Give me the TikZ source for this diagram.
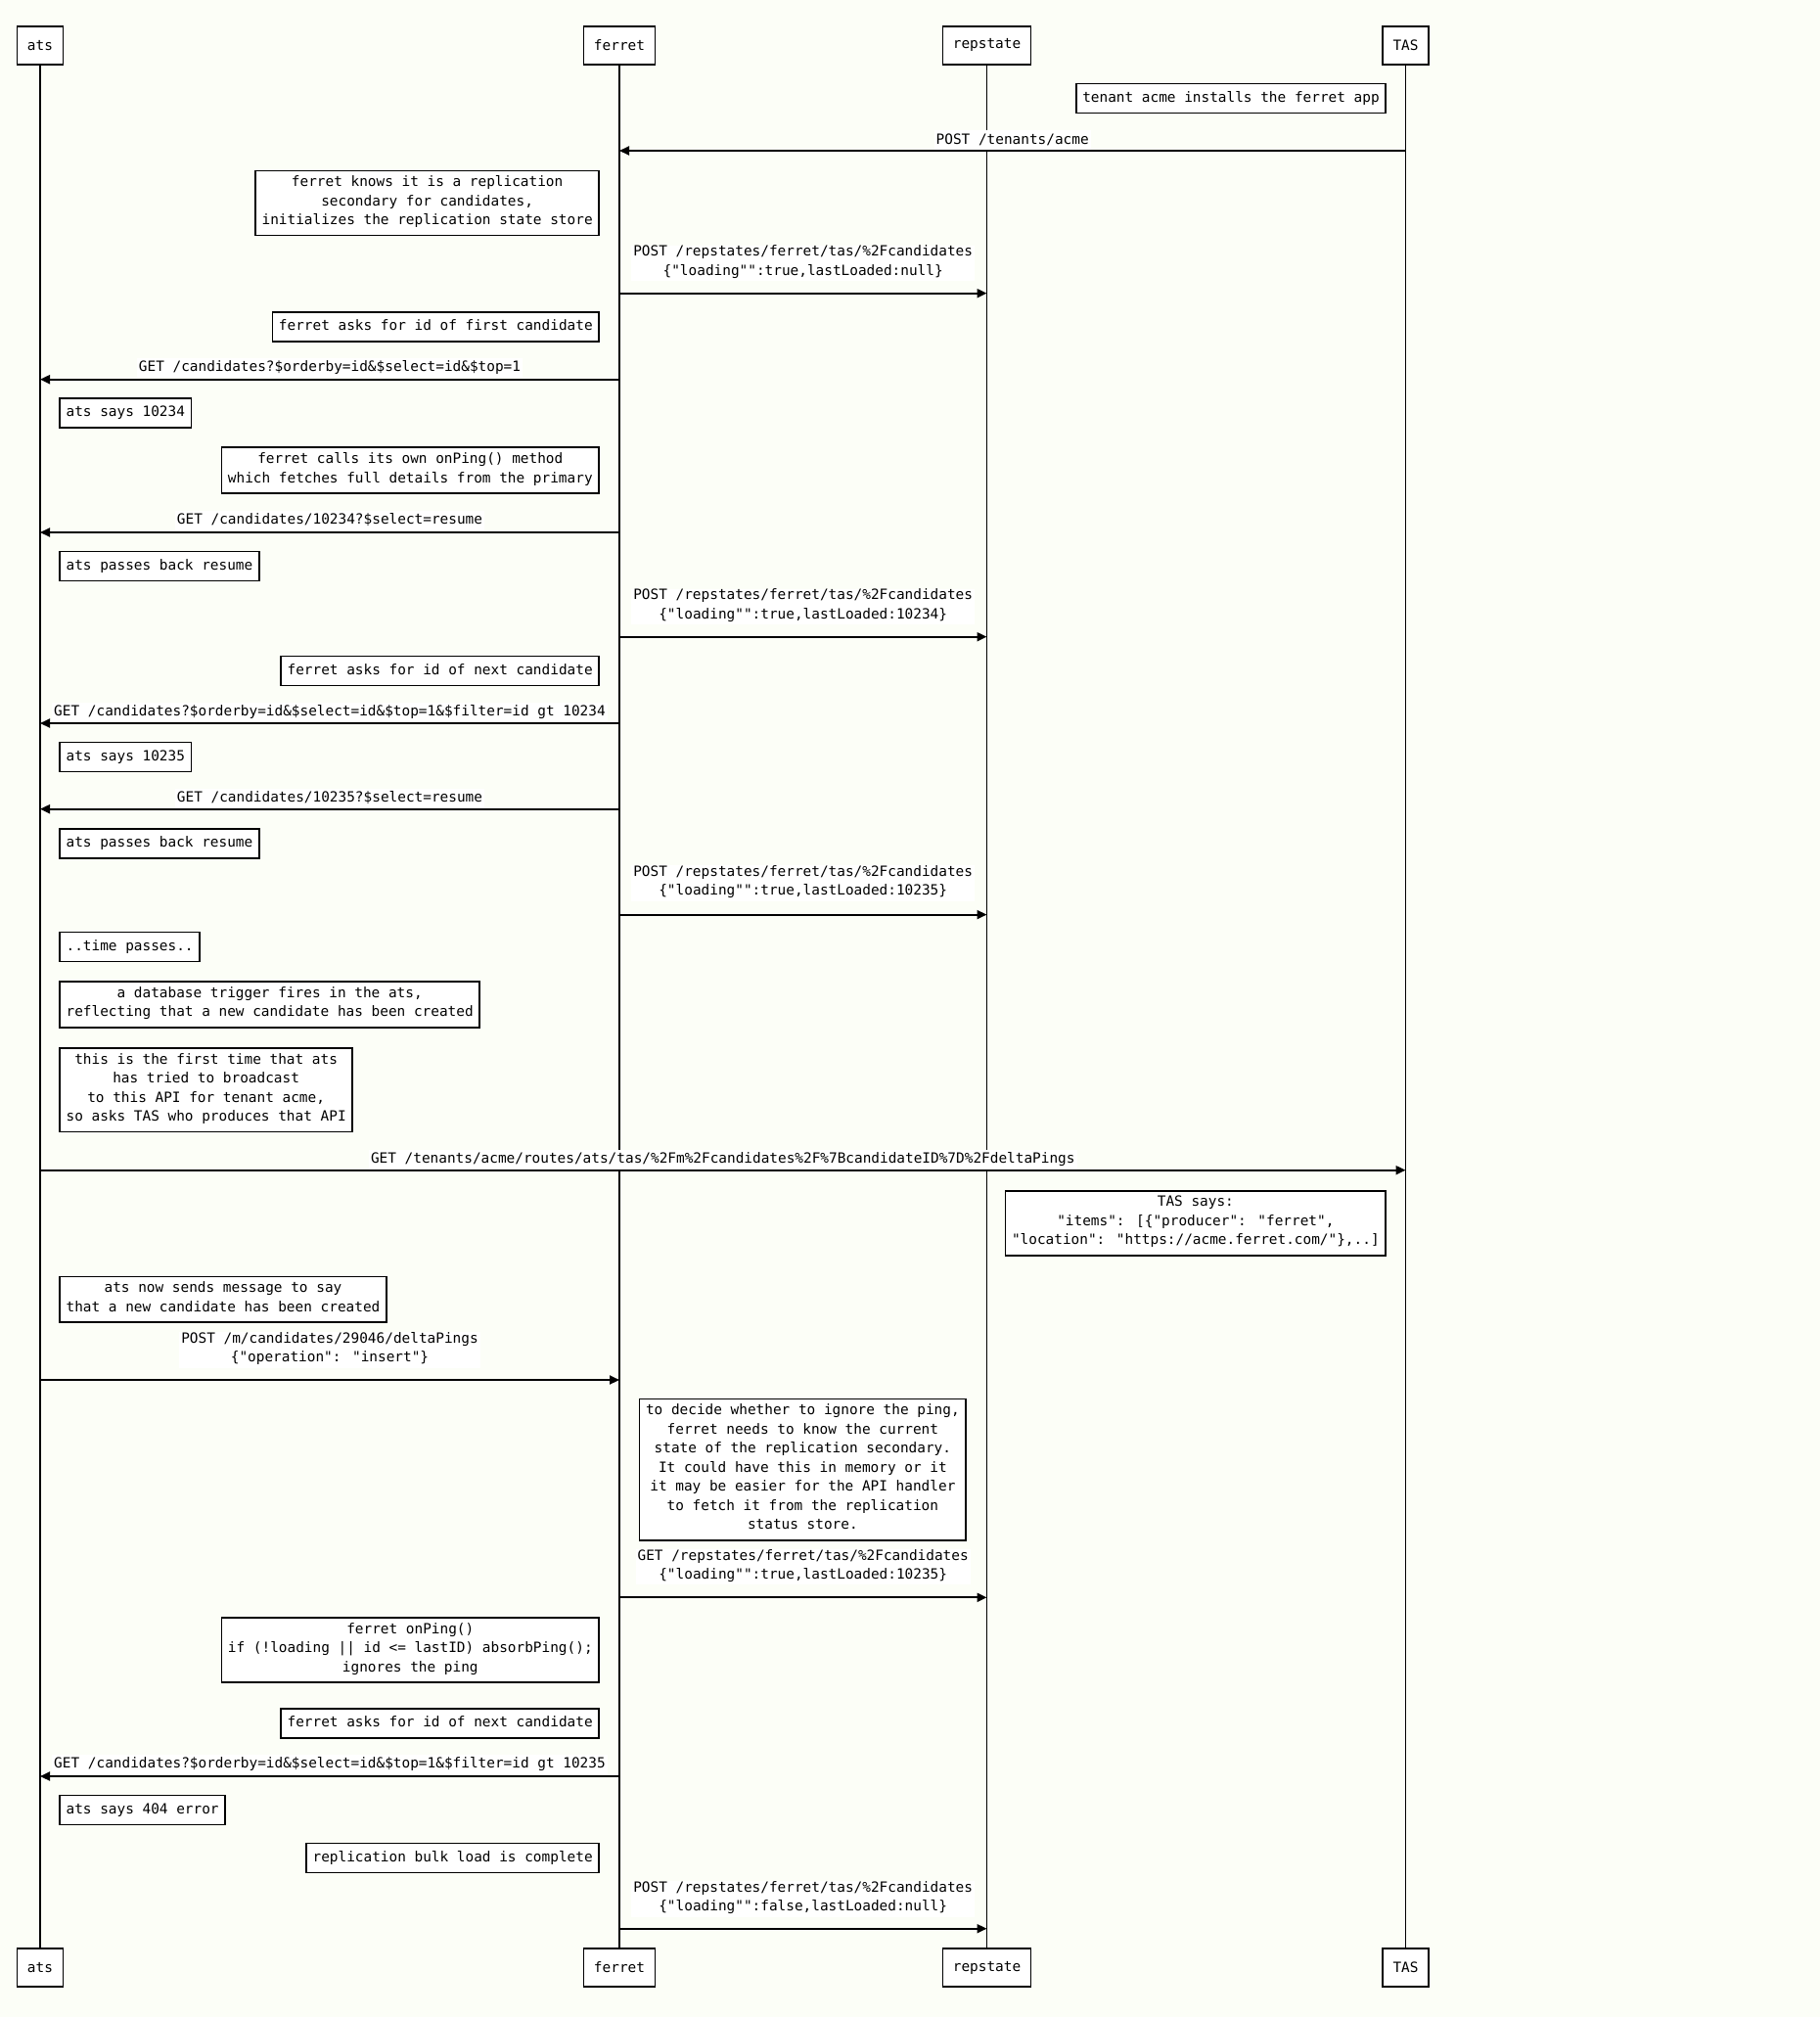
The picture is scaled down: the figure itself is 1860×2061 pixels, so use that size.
\documentclass[tikz,border=0pt]{standalone}
\usepackage{fontspec}
\usetikzlibrary{arrows.meta}
\newfontfamily\seqmono{DejaVu Sans Mono}
\newcommand\seqfont{\seqmono\fontsize{14.4}{19.5}\selectfont}
\definecolor{pagebg}{RGB}{252,254,247}

\begin{document}
\begin{tikzpicture}[x=1pt,y=-1pt,
  actor/.style={draw, line width=1.6pt, fill=white, font=\seqfont,
    minimum height=39pt, inner xsep=10.5pt, inner ysep=0pt},
  note/.style={draw, line width=1.6pt, fill=white, font=\seqfont, align=center,
    inner xsep=6.5pt, inner ysep=5.25pt,
    execute at begin node=\strut, execute at end node=\strut},
  msglabel/.style={fill=white, font=\seqfont, align=center,
    inner xsep=2pt, inner ysep=0pt, yshift=-1.5pt,
    execute at begin node=\strut, execute at end node=\strut},
  msg/.style={line width=2pt, -{Triangle[length=10pt,width=9pt]}},
  lifeline/.style={line width=1.2pt}]

\fill[pagebg] (0,0) rectangle (1860,2061);
\useasboundingbox (0,0) rectangle (1860,2061);

% participants
\node[actor] (atsT) at (41,46.4) {ats};
\node[actor] (ferT) at (633,46.4) {ferret};
\node[actor] (repT) at (1008.5,46.4) {repstate};
\node[actor] (tasT) at (1436.5,46.4) {TAS};
\node[actor] (atsB) at (41,2010.5) {ats};
\node[actor] (ferB) at (633,2010.5) {ferret};
\node[actor] (repB) at (1008.5,2010.5) {repstate};
\node[actor] (tasB) at (1436.5,2010.5) {TAS};

% lifelines
\draw[lifeline] (atsT) -- (atsB);
\draw[lifeline] (ferT) -- (ferB);
\draw[lifeline] (repT) -- (repB);
\draw[lifeline] (tasT) -- (tasB);

% notes
\node[note, anchor=east] (n1) at (1417,100.4) {tenant acme installs the ferret app};
\node[note, anchor=east] (n2) at (613,207.5) {ferret knows it is a replication\\secondary for candidates,\\initializes the replication state store};
\node[note, anchor=east] (n3) at (613,334) {ferret asks for id of first candidate};
\node[note, anchor=west] (n4) at (60.3,421.8) {ats says 10234};
\node[note, anchor=east] (n5) at (613,480.7) {ferret calls its own onPing() method\\which fetches full details from the primary};
\node[note, anchor=west] (n6) at (60.3,578.3) {ats passes back resume};
\node[note, anchor=east] (n7) at (613,685.5) {ferret asks for id of next candidate};
\node[note, anchor=west] (n8) at (60.3,773.5) {ats says 10235};
\node[note, anchor=west] (n9) at (60.3,861.7) {ats passes back resume};
\node[note, anchor=west] (n10) at (60.3,967.5) {..time passes..};
\node[note, anchor=west] (n11) at (60.3,1026.3) {a database trigger fires in the ats,\\reflecting that a new candidate has been created};
\node[note, anchor=west] (n12) at (60.3,1113.7) {this is the first time that ats\\has tried to broadcast\\to this API for tenant acme,\\so asks TAS who produces that API};
\node[note, anchor=east] (n13) at (1417,1250) {TAS says:\\"items": [\{"producer": "ferret",\\"location": "https://acme.ferret.com/"\},..]};
\node[note, anchor=west] (n14) at (60.3,1327.8) {ats now sends message to say\\that a new candidate has been created};
\node[note, anchor=west] (n15) at (652.7,1501.7) {to decide whether to ignore the ping,\\ferret needs to know the current\\state of the replication secondary.\\It could have this in memory or it\\it may be easier for the API handler\\to fetch it from the replication\\status store.};
\node[note, anchor=east] (n16) at (613,1686) {ferret onPing()\\if (!loading || id <= lastID) absorbPing();\\ignores the ping};
\node[note, anchor=east] (n17) at (613,1761) {ferret asks for id of next candidate};
\node[note, anchor=west] (n18) at (60.3,1849.3) {ats says 404 error};
\node[note, anchor=east] (n19) at (613,1898.3) {replication bulk load is complete};

% messages
\draw[msg] (tasT |- 0,154) -- (ferT |- 0,154);
\node[msglabel] (l1) at (1034.7,141.7) {POST /tenants/acme};

\draw[msg] (ferT |- 0,299.7) -- (repT |- 0,299.7);
\node[msglabel] (l2) at (820.7,267.3) {POST /repstates/ferret/tas/\%2Fcandidates\\\{"loading"":true,lastLoaded:null\}};

\draw[msg] (ferT |- 0,387.7) -- (atsT |- 0,387.7);
\node[msglabel] (l3) at (337,374.3) {GET /candidates?\$orderby=id\&\$select=id\&\$top=1};

\draw[msg] (ferT |- 0,544) -- (atsT |- 0,544);
\node[msglabel] (l4) at (337,530.3) {GET /candidates/10234?\$select=resume};

\draw[msg] (ferT |- 0,650.7) -- (repT |- 0,650.7);
\node[msglabel] (l5) at (820.7,618.5) {POST /repstates/ferret/tas/\%2Fcandidates\\\{"loading"":true,lastLoaded:10234\}};

\draw[msg] (ferT |- 0,739) -- (atsT |- 0,739);
\node[msglabel] (l6) at (337,726) {GET /candidates?\$orderby=id\&\$select=id\&\$top=1\&\$filter=id gt 10234};

\draw[msg] (ferT |- 0,826.7) -- (atsT |- 0,826.7);
\node[msglabel] (l7) at (337,814.3) {GET /candidates/10235?\$select=resume};

\draw[msg] (ferT |- 0,934.6) -- (repT |- 0,934.6);
\node[msglabel] (l8) at (820.7,901) {POST /repstates/ferret/tas/\%2Fcandidates\\\{"loading"":true,lastLoaded:10235\}};

\draw[msg] (atsT |- 0,1195.7) -- (tasT |- 0,1195.7);
\node[msglabel] (l9) at (738.8,1183.3) {GET /tenants/acme/routes/ats/tas/\%2Fm\%2Fcandidates\%2F\%7BcandidateID\%7D\%2FdeltaPings};

\draw[msg] (atsT |- 0,1410) -- (ferT |- 0,1410);
\node[msglabel] (l10) at (337,1377.8) {POST /m/candidates/29046/deltaPings\\\{"operation": "insert"\}};

\draw[msg] (ferT |- 0,1632.3) -- (repT |- 0,1632.3);
\node[msglabel] (l11) at (820.7,1599.8) {GET /repstates/ferret/tas/\%2Fcandidates\\\{"loading"":true,lastLoaded:10235\}};

\draw[msg] (ferT |- 0,1815) -- (atsT |- 0,1815);
\node[msglabel] (l12) at (337,1801.3) {GET /candidates?\$orderby=id\&\$select=id\&\$top=1\&\$filter=id gt 10235};

\draw[msg] (ferT |- 0,1970.7) -- (repT |- 0,1970.7);
\node[msglabel] (l13) at (820.7,1939) {POST /repstates/ferret/tas/\%2Fcandidates\\\{"loading"":false,lastLoaded:null\}};

\end{tikzpicture}
\end{document}
